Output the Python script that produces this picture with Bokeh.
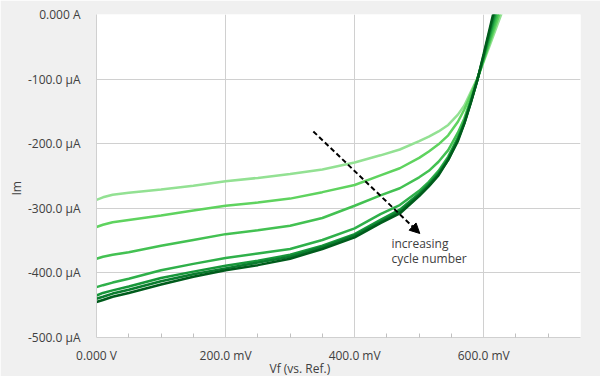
from bokeh.plotting import figure
from bokeh.models import Range1d, FixedTicker, Label, Arrow, NormalHead, Title
from bokeh.embed import file_html
from bokeh.resources import INLINE

# Potential (mV) sample points
vf_mv = [0, 10, 25, 50, 100, 150, 200, 250, 300, 350, 400, 440, 470, 500, 515, 530, 545, 560, 570, 580, 590, 600, 610, 620, 630]

# Current (uA) per cycle, lightest (first cycle) to darkest (last cycle)
cycle1 = [-287, -283, -279, -276, -271, -265, -258, -253, -247, -240, -229, -218, -209, -196, -189, -181, -171, -155, -141, -120, -99, -73, -46, -19, 8]
cycle2 = [-329, -325.5, -321.5, -318, -311, -303.5, -296, -291, -285, -275, -264, -249, -238, -222, -212, -201, -187, -166, -147, -124, -100, -71, -41, -12, 18]
cycle3 = [-378, -375, -372, -368, -358, -349, -340, -334, -327, -315, -296, -280, -269, -252, -242, -228, -210, -183, -161, -131, -100.5, -69, -37, -5, 27]
cycle4 = [-422, -419, -415, -409, -396, -386, -377, -370, -363, -349, -331, -309, -295, -273, -259, -242, -220, -190, -166, -134, -101, -67, -32, 2, 37]
cycle5 = [-435, -431, -427, -421, -408, -398, -389, -381, -372, -358, -340, -318, -302, -277, -262, -245, -223, -192, -167, -135, -101.5, -65, -28, 9, 46]
cycle6 = [-440, -437, -432, -426, -413, -402, -393, -384, -375, -360, -342, -321, -305, -279, -264, -247, -225, -194, -168, -136, -102, -63, -23, 17, 56]
cycle7 = [-445, -442, -437, -431, -418, -406, -396, -388, -378, -363, -345, -323, -308, -281, -266, -249, -225, -196, -169, -137, -102.5, -61, -19, 23, 65]
cycles = [cycle1, cycle2, cycle3, cycle4, cycle5, cycle6, cycle7]
colors = ["#93e193", "#5fd35f", "#43c152", "#2fb04a", "#17973a", "#0a7c2e", "#005c1c"]

x_ticks = [0, 200, 400, 600]
x_minor = [50, 100, 150, 250, 300, 350, 450, 500, 550, 650, 700]
x_labels = {0: "0.000 V", 200: "200.0 mV", 400: "400.0 mV", 600: "600.0 mV"}
y_ticks = [-500, -400, -300, -200, -100, 0]
y_labels = {0: "0.000 A", -100: "-100.0 µA", -200: "-200.0 µA", -300: "-300.0 µA",
            -400: "-400.0 µA", -500: "-500.0 µA"}

FONT = "Open Sans"
TXT = "#404040"
GRID = "#d0d0d0"

p = figure(width=600, height=376, output_backend="svg", toolbar_location=None,
           x_range=Range1d(0, 750), y_range=Range1d(-500, 0),
           min_border_left=96, min_border_right=20, min_border_top=14, min_border_bottom=39)
p.background_fill_color = "white"
p.border_fill_color = "#f0f0f0"
p.outline_line_color = None

p.xaxis.ticker = FixedTicker(ticks=x_ticks, minor_ticks=x_minor)
p.yaxis.ticker = FixedTicker(ticks=y_ticks)
p.xaxis.major_label_overrides = x_labels
p.yaxis.major_label_overrides = y_labels

for ax in (p.xaxis, p.yaxis):
    ax.axis_line_color = GRID
    ax.major_tick_line_color = None
    ax.major_label_text_font = FONT
    ax.major_label_text_font_size = "12px"
    ax.major_label_text_color = TXT
p.xaxis.minor_tick_line_color = "#c0c0c0"
p.xaxis.minor_tick_in = 4
p.xaxis.minor_tick_out = 0
p.yaxis.minor_tick_line_color = None
p.xaxis.major_label_standoff = 3
p.yaxis.major_label_standoff = 10

p.xgrid.ticker = FixedTicker(ticks=x_ticks)
p.ygrid.ticker = FixedTicker(ticks=y_ticks)
p.grid.grid_line_color = GRID

for ys, c in zip(cycles, colors):
    p.line(vf_mv, ys, line_color=c, line_width=2.5)

p.add_layout(Arrow(x_start=336, y_start=-181, x_end=501, y_end=-339,
                   line_color="black", line_width=2, line_dash="5 3",
                   end=NormalHead(size=10, fill_color="black", line_color="black")))

p.add_layout(Label(x=457, y=-354, text="increasing", text_font=FONT, text_font_size="12px",
                   text_color=TXT, text_baseline="middle", text_align="left"))
p.add_layout(Label(x=457, y=-377, text="cycle number", text_font=FONT, text_font_size="12px",
                   text_color=TXT, text_baseline="middle", text_align="left"))

# axis titles, offset to sit where the original has them
p.add_layout(Title(text="Vf (vs. Ref.)", align="left", offset=173, text_font=FONT,
                   text_font_size="12px", text_font_style="normal", text_color=TXT,
                   standoff=-18), "below")
p.add_layout(Title(text="Im", align="left", offset=142, text_font=FONT,
                   text_font_size="12px", text_font_style="normal", text_color=TXT,
                   standoff=0), "left")

open("out.html", "w").write(file_html(p, INLINE))
